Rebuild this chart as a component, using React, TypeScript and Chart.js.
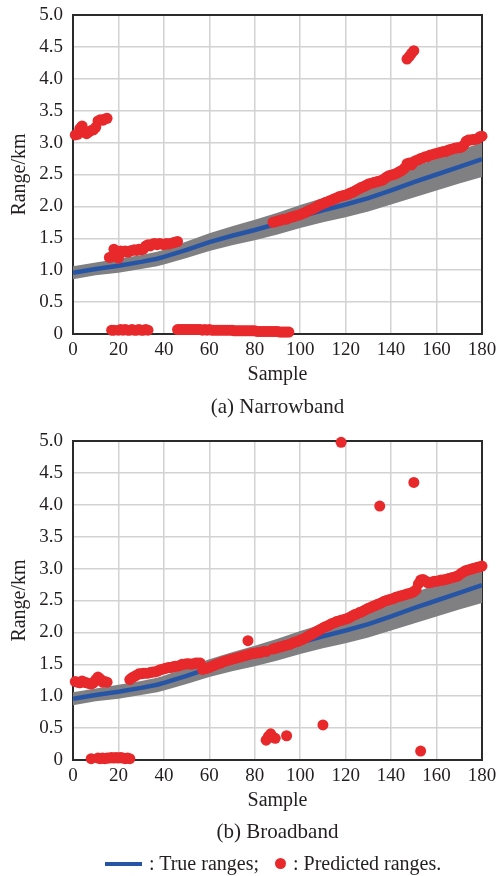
import React, { useEffect, useRef } from "react";
import { Chart, registerables } from "chart.js";

Chart.register(...registerables);

// ---- True range curve and its uncertainty band ----
const truthSamples = [0, 10, 20, 30, 37, 40, 50, 60, 70, 80, 90, 100, 110, 120, 130, 140, 150, 160, 170, 180];
const truthRange = [0.96, 1.02, 1.07, 1.13, 1.18, 1.21, 1.32, 1.44, 1.54, 1.63, 1.73, 1.84, 1.94, 2.03, 2.13, 2.25, 2.38, 2.5, 2.62, 2.74];
const bandUpper = [1.06, 1.12, 1.18, 1.24, 1.29, 1.32, 1.45, 1.58, 1.69, 1.79, 1.9, 2.02, 2.13, 2.23, 2.34, 2.48, 2.62, 2.75, 2.88, 3.0];
const bandLower = [0.86, 0.92, 0.96, 1.02, 1.06, 1.09, 1.19, 1.3, 1.39, 1.47, 1.56, 1.66, 1.75, 1.83, 1.92, 2.03, 2.14, 2.25, 2.36, 2.46];

// ---- (a) Narrowband predictions ----
const narrowHighStart = 1;
const narrowHigh = [3.12, 3.13, 3.22, 3.26, 3.16, 3.14, 3.17, 3.19, 3.2, 3.24, 3.34, 3.36, 3.35, 3.37, 3.38];
const narrowMidStart = 16;
const narrowMid = [1.2, 1.21, 1.33, 1.25, 1.19, 1.3, 1.29, 1.3, 1.28, 1.3, 1.31, 1.32, 1.31, 1.33, 1.32, 1.33, 1.38, 1.4, 1.38, 1.41, 1.42, 1.4, 1.42, 1.41, 1.4, 1.42, 1.41, 1.42, 1.43, 1.44, 1.45];
const narrowLowStart = 17;
const narrowLow = [
  0.06, 0.06, null, 0.06, 0.07, 0.06, 0.07, 0.06, 0.06, 0.07, 0.06, 0.06, 0.07, 0.06, 0.06, 0.07, 0.06,
  null, null, null, null, null, null, null, null, null, null, null, null,
  0.07, 0.07, 0.07, 0.07, 0.07, 0.07, 0.07, 0.07, 0.07, 0.07, 0.07, 0.06, 0.07, 0.06, 0.07,
  0.06, 0.06, 0.06, 0.06, 0.06, 0.06, 0.06, 0.06, 0.06, 0.06, 0.05, 0.05, 0.05, 0.05, 0.05,
  0.05, 0.05, 0.05, 0.05, 0.05, 0.04, 0.04, 0.04, 0.04, 0.04, 0.04, 0.04, 0.04, 0.04, 0.04,
  0.03, 0.03, 0.03, 0.03, 0.03,
];
const narrowMainStart = 88;
const narrowMain = [
  1.75, 1.76, 1.77, 1.78, 1.79, 1.8, 1.8, 1.82, 1.83, 1.84,
  1.85, 1.86, 1.87, 1.89, 1.9, 1.92, 1.94, 1.95, 1.97, 1.99,
  2.01, 2.03, 2.04, 2.06, 2.07, 2.09, 2.1, 2.12, 2.13, 2.15,
  2.16, 2.17, 2.18, 2.19, 2.21, 2.22, 2.24, 2.26, 2.28, 2.3,
  2.31, 2.33, 2.35, 2.36, 2.37, 2.38, 2.39, 2.4, 2.41, 2.43,
  2.46, 2.48, 2.49, 2.5, 2.51, 2.53, 2.55, 2.57, 2.6, 2.67,
  2.68, 2.65, 2.7, 2.72, 2.73, 2.75, 2.76, 2.78, 2.78, 2.8,
  2.81, 2.82, 2.83, 2.84, 2.85, 2.86, 2.86, 2.88, 2.89, 2.9,
  2.91, 2.92, 2.92, 2.93, 2.96, 3.02, 3.04, 3.04, 3.05, 3.05,
  3.06, 3.09, 3.1,
];
const narrowOutlierSamples = [147, 148, 149, 150];
const narrowOutlierRange = [4.31, 4.35, 4.4, 4.44];

// ---- (b) Broadband predictions ----
const broadEarlyStart = 1;
const broadEarly = [1.23, 1.22, 1.21, 1.24, 1.22, 1.21, 1.2, 1.19, 1.21, 1.26, 1.3, 1.27, 1.22, 1.23, 1.22];
const broadLowStart = 8;
const broadLow = [0.02, null, null, 0.03, 0.02, 0.03, 0.02, 0.03, 0.03, 0.04, 0.03, 0.04, 0.03, 0.04, 0.03, 0.02, 0.03, 0.02];
const broadMainStart = 25;
const broadMain = [
  1.26, 1.29, 1.31, 1.33, 1.35, 1.35, 1.36, 1.36, 1.36, 1.37,
  1.38, 1.38, 1.39, 1.41, 1.42, 1.43, 1.44, 1.45, 1.45, 1.46,
  1.47, 1.47, 1.48, 1.5, 1.5, 1.51, 1.51, 1.5, 1.51, 1.52,
  1.52, 1.52, 1.42, 1.43, 1.44, 1.45, 1.47, 1.48, 1.5, 1.51,
  1.52, 1.54, 1.55, 1.56, 1.57, 1.58, 1.59, 1.6, 1.61, 1.62,
  1.63, 1.64, 1.65, 1.66, 1.67, 1.67, 1.68, 1.68, 1.69, 1.7,
  1.7, null, null, 1.74, 1.75, 1.76, 1.77, 1.78, 1.79, 1.8,
  1.81, 1.82, 1.84, 1.85, 1.86, 1.88, 1.89, 1.91, 1.93, 1.95,
  1.97, 1.99, 2.01, 2.03, 2.05, 2.07, 2.09, 2.1, 2.12, 2.14,
  2.15, 2.17, 2.18, 2.19, 2.2, 2.21, 2.22, 2.24, 2.26, 2.28,
  2.29, 2.31, 2.32, 2.34, 2.36, 2.38, 2.39, 2.41, 2.42, 2.44,
  2.45, 2.47, 2.49, 2.5, 2.51, 2.52, 2.53, 2.55, 2.56, 2.57,
  2.58, 2.59, 2.6, 2.61, 2.62, 2.64, 2.67, 2.76, 2.82, 2.83,
  2.81, 2.78, 2.78, 2.79, 2.8, 2.8, 2.81, 2.82, 2.82, 2.83,
  2.84, 2.85, 2.86, 2.87, 2.88, 2.9, 2.93, 2.95, 2.97, 2.98,
  2.99, 3.0, 3.01, 3.02, 3.03, 3.04,
];
const broadOutlierSamples = [77, 85, 86, 87, 88, 89, 94, 110, 118, 135, 150, 153];
const broadOutlierRange = [1.87, 0.31, 0.37, 0.41, 0.36, 0.34, 0.38, 0.55, 4.98, 3.98, 4.35, 0.14];

// ---- Styling ----
const FONT = "'Liberation Serif', 'Times New Roman', Times, serif";
const TEXT = "#231f20";
const RED = "#e8292b";
const BLUE = "#2755a6";
const GREY = "#808083";
const GRID = "#d2d2d2";

// plot-area placement inside each 498x395 canvas
const PLOT_TOP = 15;
const PLOT_RIGHT = 482;
const Y_AXIS_WIDTH = 73;
const X_AXIS_HEIGHT = 61;

type Pt = { x: number; y: number };

function fromRun(start: number, values: (number | null)[]): Pt[] {
  const pts: Pt[] = [];
  values.forEach((v, i) => {
    if (v !== null) pts.push({ x: start + i, y: v });
  });
  return pts;
}

function zipPts(xs: number[], ys: number[]): Pt[] {
  return xs.map((x, i) => ({ x, y: ys[i] }));
}

const framePlugin = {
  id: "frame",
  beforeDatasetsDraw(chart: any) {
    const { ctx, chartArea } = chart;
    ctx.save();
    ctx.strokeStyle = "#2b2b2b";
    ctx.lineWidth = 2;
    ctx.strokeRect(chartArea.left, chartArea.top, chartArea.right - chartArea.left, chartArea.bottom - chartArea.top);
    ctx.restore();
  },
};

function buildConfig(predicted: Pt[]) {
  const tickFont = { family: FONT, size: 19 };
  const titleFont = { family: FONT, size: 20 };
  return {
    type: "scatter" as const,
    data: {
      datasets: [
        {
          type: "scatter",
          data: predicted,
          pointRadius: 5.5,
          pointBackgroundColor: RED,
          backgroundColor: RED,
          borderWidth: 0,
          pointBorderWidth: 0,
          clip: false,
        },
        {
          type: "line",
          data: zipPts(truthSamples, truthRange),
          borderColor: BLUE,
          borderWidth: 4.5,
          pointRadius: 0,
          showLine: true,
          tension: 0,
          fill: false,
        },
        {
          type: "line",
          data: zipPts(truthSamples, bandUpper),
          borderWidth: 0,
          borderColor: "rgba(0,0,0,0)",
          backgroundColor: GREY,
          pointRadius: 0,
          showLine: true,
          tension: 0,
          fill: "+1",
        },
        {
          type: "line",
          data: zipPts(truthSamples, bandLower),
          borderWidth: 0,
          borderColor: "rgba(0,0,0,0)",
          pointRadius: 0,
          showLine: true,
          tension: 0,
          fill: false,
        },
      ],
    },
    options: {
      animation: false,
      responsive: false,
      events: [],
      layout: { autoPadding: false, padding: { top: PLOT_TOP, right: 498 - PLOT_RIGHT, left: 0, bottom: 0 } },
      plugins: {
        legend: { display: false },
        tooltip: { enabled: false },
      },
      scales: {
        x: {
          type: "linear",
          min: 0,
          max: 180,
          ticks: { stepSize: 20, font: tickFont, color: TEXT, padding: 4.5, maxRotation: 0, autoSkip: false },
          grid: { color: GRID, lineWidth: 1.5, drawTicks: false },
          border: { display: false },
          title: { display: true, text: "Sample", font: titleFont, color: TEXT, padding: { top: 0, bottom: 8 } },
          afterFit: (s: any) => {
            s.height = X_AXIS_HEIGHT;
            s.paddingLeft = 0;
            s.paddingRight = 0;
          },
        },
        y: {
          min: 0,
          max: 5,
          ticks: {
            stepSize: 0.5,
            font: tickFont,
            color: TEXT,
            padding: 10,
            autoSkip: false,
            callback: (v: any) => (Number(v) === 0 ? "0" : Number(v).toFixed(1)),
          },
          grid: { color: GRID, lineWidth: 1.5, drawTicks: false },
          border: { display: false },
          title: { display: true, text: "Range/km", font: titleFont, color: TEXT, padding: { top: 8, bottom: 0 } },
          afterFit: (s: any) => {
            s.width = Y_AXIS_WIDTH;
            s.paddingTop = 0;
            s.paddingBottom = 0;
          },
        },
      },
    },
    plugins: [framePlugin],
  };
}

function RangeChart({ predicted, top }: { predicted: Pt[]; top: number }) {
  const ref = useRef<HTMLCanvasElement | null>(null);
  useEffect(() => {
    if (!ref.current) return;
    const chart = new Chart(ref.current, buildConfig(predicted) as any);
    return () => chart.destroy();
  }, [predicted]);
  return (
    <div style={{ position: "absolute", left: 0, top, width: 498, height: 395 }}>
      <canvas ref={ref} width={498} height={395} style={{ display: "block" }} />
    </div>
  );
}

const narrowPredicted: Pt[] = [
  ...fromRun(narrowHighStart, narrowHigh),
  ...fromRun(narrowMidStart, narrowMid),
  ...fromRun(narrowLowStart, narrowLow),
  ...fromRun(narrowMainStart, narrowMain),
  ...zipPts(narrowOutlierSamples, narrowOutlierRange),
];

const broadPredicted: Pt[] = [
  ...fromRun(broadEarlyStart, broadEarly),
  ...fromRun(broadLowStart, broadLow),
  ...fromRun(broadMainStart, broadMain),
  ...zipPts(broadOutlierSamples, broadOutlierRange),
];

const textStyle: React.CSSProperties = {
  position: "absolute",
  fontFamily: FONT,
  fontSize: 20,
  lineHeight: "24px",
  color: TEXT,
  whiteSpace: "nowrap",
};

export default function App() {
  return (
    <div style={{ position: "absolute", left: 0, top: 0, width: 498, height: 876, background: "#fff" }}>
      <RangeChart predicted={narrowPredicted} top={0} />
      <div style={{ ...textStyle, fontSize: 21, top: 394, left: 73, width: 409, textAlign: "center" }}>(a) Narrowband</div>
      <RangeChart predicted={broadPredicted} top={426} />
      <div style={{ ...textStyle, fontSize: 21, top: 819, left: 73, width: 409, textAlign: "center" }}>(b) Broadband</div>
      <div style={{ position: "absolute", left: 105, top: 862, width: 37, height: 4, background: BLUE }} />
      <div style={{ ...textStyle, top: 851, left: 149 }}>: True ranges;</div>
      <div style={{ position: "absolute", left: 275, top: 858, width: 11, height: 11, borderRadius: "50%", background: RED }} />
      <div style={{ ...textStyle, top: 851, left: 293 }}>: Predicted ranges.</div>
    </div>
  );
}
